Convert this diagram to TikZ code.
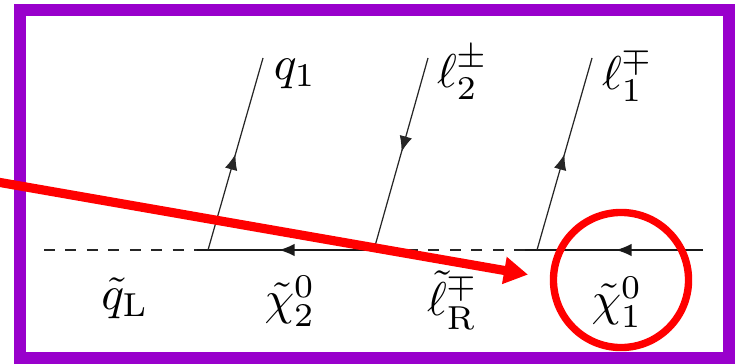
\documentclass[tikz,border=0pt]{standalone}
\usepackage{amsmath,amssymb}
\usetikzlibrary{arrows.meta, decorations.markings}
\definecolor{framepurple}{RGB}{153,0,204}
\definecolor{markred}{RGB}{255,0,0}

\begin{document}
\begin{tikzpicture}[x=0.01cm, y=-0.01cm, >=Stealth,
    labelnode/.style={inner sep=0pt, scale=1.35},
    fermion/.style={draw=black!85, line width=0.35pt, postaction={decorate},
        decoration={markings, mark=at position #1 with {\arrow{Latex[length=4.5pt,width=3.6pt]}}}},
    scalar/.style={draw=black!85, line width=0.4pt, dash pattern=on 3.1pt off 3pt},
    gaugino/.style={draw=black!90, line width=0.5pt, postaction={decorate},
        decoration={markings, mark=at position #1 with {\arrow{Latex[length=4.5pt,width=3.6pt]}}}}]
    \useasboundingbox (0,0) rectangle (740,364);
    \clip (0,0) rectangle (740,364);

    % frame
    \draw[framepurple, line width=3.6pt] (20,10) rectangle (729,358);

    % vertices on the decay chain
    \coordinate (squarkL) at (44,250);
    \coordinate (vertexq) at (197,250);
    \coordinate (vertexa) at (375,250);
    \coordinate (vertexb) at (525,250);
    \coordinate (chiend) at (703,250);
    \coordinate (vertexqtop) at (208,250);
    \coordinate (vertexltwo) at (375,246);
    \coordinate (vertexlone) at (537,250);
    \coordinate (qend) at (263,58);
    \coordinate (ltwoend) at (428,58);
    \coordinate (loneend) at (592,58);

    \draw[scalar] (squarkL) -- (vertexq);
    \draw[gaugino=0.54] (vertexa) -- (vertexq);
    \draw[scalar] (vertexb) -- (vertexa);
    \draw[gaugino=0.49] (chiend) -- (vertexb);
    \draw[fermion=0.50] (vertexqtop) -- (qend);
    \draw[fermion=0.50] (ltwoend) -- (vertexltwo);
    \draw[fermion=0.50] (vertexlone) -- (loneend);

    \node[labelnode] (qone) at (295,74) {$q_1$};
    \node[labelnode] (ltwo) at (463,73) {$\ell_2^\pm$};
    \node[labelnode] (lone) at (628,75) {$\ell_1^\mp$};
    \node[labelnode] (qtildeL) at (125,298) {$\tilde q_{\mathrm{L}}$};
    \node[labelnode] (chitwo) at (290,301) {$\tilde\chi_2^0$};
    \node[labelnode] (sleptonR) at (453,300) {$\tilde\ell_{\mathrm{R}}^\mp$};
    \node[labelnode] (chione) at (617,302) {$\tilde\chi_1^0$};

    % red marks
    \coordinate (pointerstart) at (-5,181.6);
    \coordinate (pointertip) at (528,274.6);
    \draw[markred, line width=2.6pt, -{Triangle[length=0.24cm, width=0.26cm]}] (pointerstart) -- (pointertip);
    \node[draw=markred, line width=2.1pt, circle, minimum size=1.35cm] (chicircle) at (621,280) {};
\end{tikzpicture}
\end{document}
